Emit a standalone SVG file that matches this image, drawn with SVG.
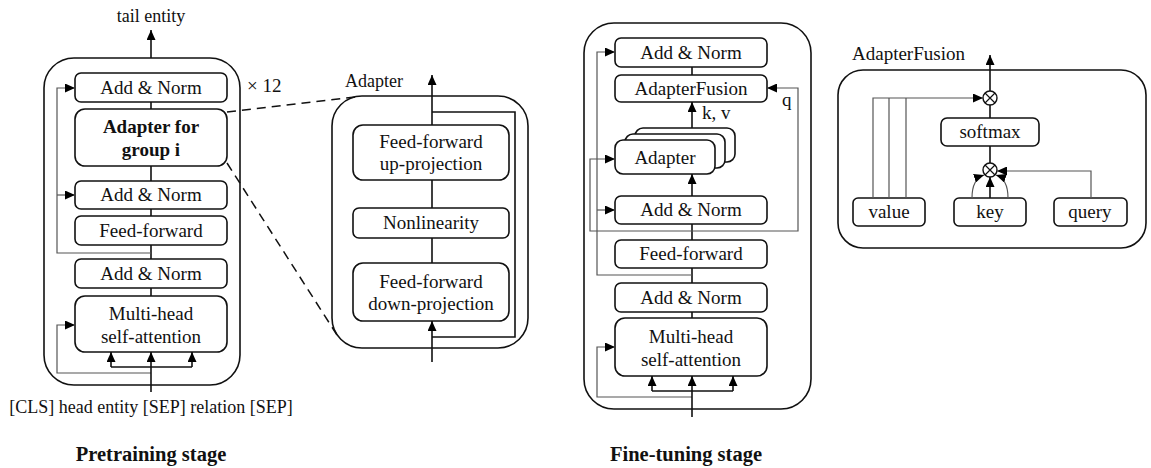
<svg xmlns="http://www.w3.org/2000/svg" width="1151" height="468" viewBox="0 0 1151 468">
  <defs>
    <marker id="arrow" viewBox="0 0 10 9" refX="10" refY="4.5" markerWidth="10" markerHeight="9" markerUnits="userSpaceOnUse" orient="auto">
      <path d="M0,0 L10,4.5 L0,9 z" fill="#000"/>
    </marker>
    <style>
      text { font-family: "Liberation Serif", "Times New Roman", serif; font-size: 19px; fill: #111; }
      .c { text-anchor: middle; }
      .b { font-weight: bold; }
      .s18 { font-size: 18px; }
      .title { font-weight: bold; font-size: 20.5px; text-anchor: middle; }
      .outer { fill: none; stroke: #111; stroke-width: 1.6; }
      .box { fill: #fff; stroke: #111; stroke-width: 1.6; }
      .main { fill: none; stroke: #111; stroke-width: 1.6; }
      .skip { fill: none; stroke: #555; stroke-width: 1.2; }
      .dash { fill: none; stroke: #111; stroke-width: 1.5; stroke-dasharray: 9 6; }
      .arr { marker-end: url(#arrow); }
    </style>
  </defs>
  <rect width="1151" height="468" fill="#fff"/>

  <!-- ===== Pretraining encoder layer ===== -->
  <g id="pre-layer">
    <rect class="outer" x="44" y="58" width="196" height="327" rx="30"/>
    <text x="247" y="92">× 12</text>
  </g>
  <g id="pre-addnorm-top">
    <rect class="box" x="75" y="73" width="152" height="29" rx="6"/>
    <text class="c" x="151" y="94">Add &amp; Norm</text>
  </g>
  <g id="pre-adapter-group">
    <rect class="box" x="75" y="109" width="152" height="57" rx="10"/>
    <text class="c b" x="151" y="133">Adapter for</text>
    <text class="c b" x="151" y="156">group i</text>
  </g>
  <g id="pre-addnorm-mid">
    <rect class="box" x="75" y="181" width="152" height="28" rx="6"/>
    <text class="c" x="151" y="201">Add &amp; Norm</text>
  </g>
  <g id="pre-feedforward">
    <rect class="box" x="75" y="216" width="152" height="29" rx="6"/>
    <text class="c" x="151" y="237">Feed-forward</text>
  </g>
  <g id="pre-addnorm-low">
    <rect class="box" x="75" y="259" width="152" height="29" rx="6"/>
    <text class="c" x="151" y="280">Add &amp; Norm</text>
  </g>
  <g id="pre-attention">
    <rect class="box" x="75" y="296" width="152" height="56" rx="10"/>
    <text class="c" x="151" y="320">Multi-head</text>
    <text class="c" x="151" y="343">self-attention</text>
  </g>
  <g id="pre-labels">
    <text class="c s18" x="151" y="22">tail entity</text>
    <text class="c s18" x="151" y="413">[CLS] head entity [SEP] relation [SEP]</text>
    <text class="title" x="151" y="461">Pretraining stage</text>
  </g>

  <!-- ===== Adapter block ===== -->
  <g id="adapter-block">
    <rect class="outer" x="332" y="96" width="196" height="252" rx="30"/>
    <text class="s18" x="345" y="87">Adapter</text>
  </g>
  <g id="adapter-up">
    <rect class="box" x="353" y="125" width="156" height="55" rx="10"/>
    <text class="c" x="431" y="148">Feed-forward</text>
    <text class="c" x="431" y="170">up-projection</text>
  </g>
  <g id="adapter-nonlin">
    <rect class="box" x="353" y="208" width="156" height="30" rx="6"/>
    <text class="c" x="431" y="229">Nonlinearity</text>
  </g>
  <g id="adapter-down">
    <rect class="box" x="353" y="263" width="156" height="58" rx="10"/>
    <text class="c" x="431" y="288">Feed-forward</text>
    <text class="c" x="431" y="310">down-projection</text>
  </g>

  <!-- ===== Fine-tuning encoder layer ===== -->
  <g id="ft-layer">
    <rect class="outer" x="584" y="23" width="227" height="386" rx="30"/>
  </g>
  <g id="ft-addnorm-top">
    <rect class="box" x="615" y="38" width="152" height="29" rx="6"/>
    <text class="c" x="691" y="59">Add &amp; Norm</text>
  </g>
  <g id="ft-fusion">
    <rect class="box" x="615" y="75" width="152" height="27" rx="6"/>
    <text class="c" x="691" y="95">AdapterFusion</text>
  </g>
  <g id="ft-adapters">
    <rect class="box" x="635" y="128" width="100" height="34" rx="8"/>
    <rect class="box" x="625" y="134" width="100" height="34" rx="8"/>
    <rect class="box" x="615" y="140" width="100" height="34" rx="8"/>
    <text class="c" x="665" y="164">Adapter</text>
  </g>
  <g id="ft-addnorm-mid">
    <rect class="box" x="615" y="196" width="152" height="28" rx="6"/>
    <text class="c" x="691" y="216">Add &amp; Norm</text>
  </g>
  <g id="ft-feedforward">
    <rect class="box" x="615" y="240" width="152" height="28" rx="6"/>
    <text class="c" x="691" y="260">Feed-forward</text>
  </g>
  <g id="ft-addnorm-low">
    <rect class="box" x="615" y="283" width="152" height="29" rx="6"/>
    <text class="c" x="691" y="304">Add &amp; Norm</text>
  </g>
  <g id="ft-attention">
    <rect class="box" x="615" y="318" width="152" height="58" rx="10"/>
    <text class="c" x="691" y="343">Multi-head</text>
    <text class="c" x="691" y="366">self-attention</text>
  </g>
  <g id="ft-labels">
    <text x="702" y="119">k, v</text>
    <text x="782" y="106">q</text>
    <text class="title" x="686" y="461">Fine-tuning stage</text>
  </g>

  <!-- ===== AdapterFusion block ===== -->
  <g id="fusion-block">
    <rect class="outer" x="838" y="70" width="308" height="178" rx="25"/>
    <text x="852" y="60">AdapterFusion</text>
  </g>
  <g id="fusion-mul-top">
    <circle cx="990" cy="98" r="7" fill="#fff" stroke="#111" stroke-width="1.4"/>
    <path d="M985 93 L995 103 M995 93 L985 103" stroke="#111" stroke-width="1.2"/>
  </g>
  <g id="fusion-softmax">
    <rect class="box" x="941" y="118" width="98" height="28" rx="6"/>
    <text class="c" x="990" y="138">softmax</text>
  </g>
  <g id="fusion-mul-low">
    <circle cx="990" cy="170" r="7" fill="#fff" stroke="#111" stroke-width="1.4"/>
    <path d="M985 165 L995 175 M995 165 L985 175" stroke="#111" stroke-width="1.2"/>
  </g>
  <g id="fusion-value">
    <rect class="box" x="853" y="198" width="72" height="28" rx="5"/>
    <text class="c" x="889" y="218">value</text>
  </g>
  <g id="fusion-key">
    <rect class="box" x="954" y="198" width="72" height="28" rx="5"/>
    <text class="c" x="990" y="218">key</text>
  </g>
  <g id="fusion-query">
    <rect class="box" x="1054" y="198" width="73" height="28" rx="5"/>
    <text class="c" x="1090" y="218">query</text>
  </g>

  <!-- ===== Connectors ===== -->
  <g id="connectors">
    <!-- pretraining column -->
    <path class="main arr" d="M151 58 V30"/>
    <path class="main" d="M151 102 V109 M151 166 V181 M151 209 V216 M151 245 V259 M151 288 V296"/>
    <path class="skip arr" d="M151 253 H57 V88 H75"/>
    <path class="skip arr" d="M57 195 H75"/>
    <path class="skip arr" d="M151 373 H57 V325 H75"/>
    <path class="main arr" d="M151 392 V352"/>
    <path class="main" d="M111 367 H192"/>
    <path class="main arr" d="M111 367 V352"/>
    <path class="main arr" d="M192 367 V352"/>
    <!-- zoom lines to the adapter block -->
    <path class="dash" d="M227 112 L355 97"/>
    <path class="dash" d="M227 163 L337 335"/>

    <!-- adapter block -->
    <path class="main arr" d="M432 125 V75"/>
    <path class="main" d="M432 180 V208 M432 238 V263"/>
    <path class="main arr" d="M432 362 V321"/>
    <path class="main" stroke-width="2.2" d="M432 337 H515 V112 H432"/>

    <!-- fine-tuning column -->
    <path class="main" d="M692 67 V75"/>
    <path class="main arr" d="M692 128 V102"/>
    <path class="main arr" d="M692 196 V174"/>
    <path class="main" d="M692 224 V240 M692 268 V283 M692 312 V318"/>
    <path class="skip arr" d="M692 275 H597 V52 H615"/>
    <path class="skip arr" d="M597 210 H615"/>
    <path class="skip arr" d="M692 231 H590 V159 H615"/>
    <path class="skip arr" d="M692 231 H798 V88 H767"/>
    <path class="skip arr" d="M692 397 H597 V347 H615"/>
    <path class="main arr" d="M692 417 V376"/>
    <path class="main" d="M652 391 H733"/>
    <path class="main arr" d="M652 391 V376"/>
    <path class="main arr" d="M733 391 V376"/>

    <!-- AdapterFusion block -->
    <path class="main arr" d="M990 91 V55"/>
    <path class="main" d="M990 105 V118 M990 146 V163"/>
    <path class="skip arr" d="M873 198 V98 H983"/>
    <path class="skip" d="M889 198 V98 M906 198 V98"/>
    <path class="main arr" d="M990 198 V177"/>
    <path class="skip arr" d="M972 198 C972 186 975 178 984 175"/>
    <path class="skip arr" d="M1008 198 C1008 186 1005 178 996 175"/>
    <path class="skip arr" d="M1091 198 V171 H997"/>
  </g>
</svg>
